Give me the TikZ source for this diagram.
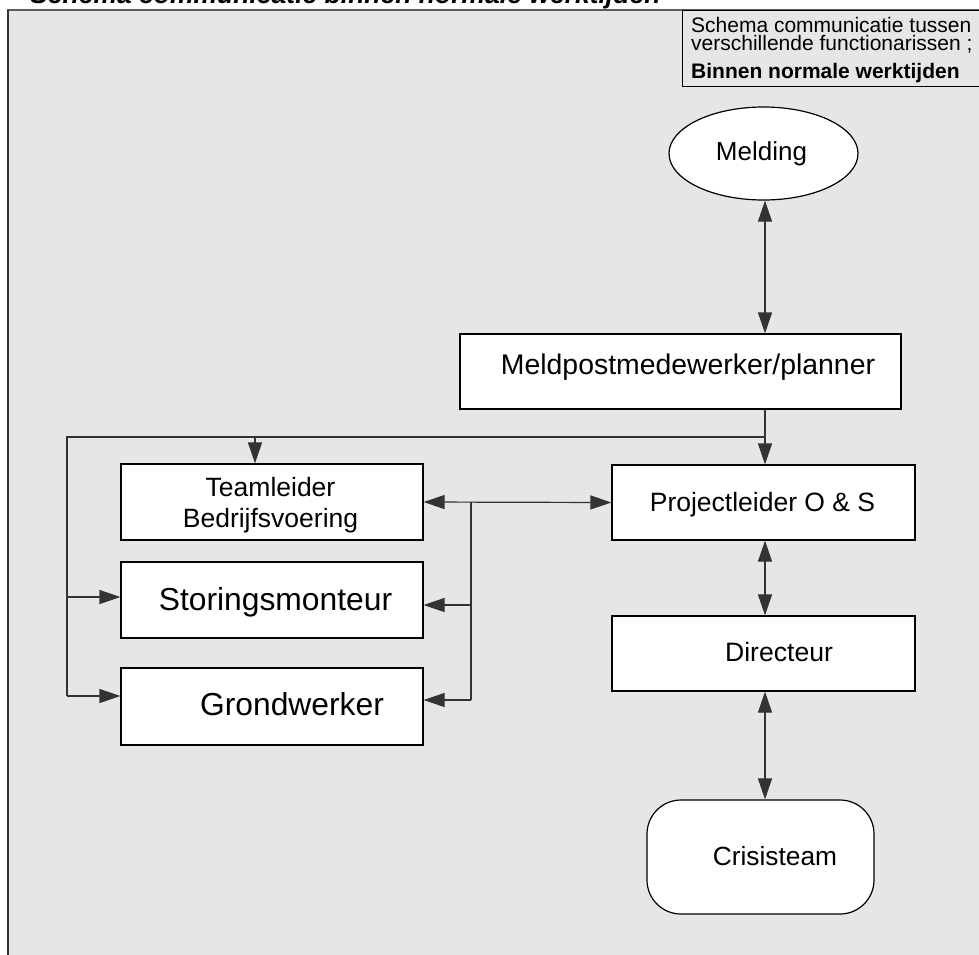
\documentclass[tikz,border=0pt]{standalone}
\usepackage{fontspec}
\setmainfont{Liberation Sans}
\usetikzlibrary{arrows.meta,shapes.geometric}
\definecolor{bg}{HTML}{E6E6E6}
\definecolor{ln}{HTML}{333333}
\tikzset{
  box/.style={draw=black,line width=1.2pt,fill=white,rectangle,inner sep=0pt},
  txt/.style={anchor=base,inner sep=0pt,text=black},
  conn/.style={draw=ln,line width=1.2pt},
  arr/.style={conn,-{Triangle[length=21pt,width=14pt]}},
  dbl/.style={conn,{Triangle[length=21pt,width=14pt]}-{Triangle[length=21pt,width=14pt]}},
  fs/.style={font=\fontsize{#1}{#1}\selectfont}
}
\begin{document}
\begin{tikzpicture}[x=1pt,y=-1pt]
\useasboundingbox (0,0) rectangle (979,954);
% frame
\fill[white] (0,0) rectangle (979,954);
\path[fill=bg] (8,10) rectangle (990,965);
\draw[draw=ln!80,line width=1.5pt] (8,965) -- (8,10) -- (990,10);
\draw[draw=ln,line width=2pt] (8,10) -- (8,965);
% title (cut off at top)
\node[txt,anchor=base west,font=\fontsize{26.5}{30}\selectfont\bfseries\itshape] (title) at (30,3) {Schema communicatie binnen normale werktijden};
% legend
\node[draw=black,line width=1.2pt,fill=bg,rectangle,inner sep=0pt,minimum width=310pt,minimum height=76pt,anchor=north west] (leg) at (682,10) {};
\node[txt,anchor=base west,fs=21] (leg1) at (691,32) {Schema communicatie tussen};
\node[txt,anchor=base west,fs=21] (leg2) at (691,50) {verschillende functionarissen ;};
\node[txt,anchor=base west,font=\fontsize{21}{21}\selectfont\bfseries] (leg3) at (691,78) {Binnen normale werktijden};
% boxes
\node[draw=black,line width=1.2pt,fill=white,ellipse,inner sep=0pt,minimum width=189pt,minimum height=93pt] (mel) at (763.5,153.5) {};
\node[box,minimum width=441pt,minimum height=75pt] (mp) at (680.5,371.5) {};
\node[box,minimum width=302pt,minimum height=76pt] (tl) at (272,502) {};
\node[box,minimum width=302pt,minimum height=76pt] (sm) at (272,600) {};
\node[box,minimum width=302pt,minimum height=77pt] (gw) at (272,706.5) {};
\node[box,minimum width=303pt,minimum height=75pt] (pl) at (763.5,502.5) {};
\node[box,minimum width=303pt,minimum height=75pt] (dir) at (763.5,653.5) {};
\node[box,rounded corners=34pt,minimum width=227pt,minimum height=114pt] (cr) at (760.5,857) {};
% texts
\node[txt,fs=26] (melt) at (761.5,160) {Melding};
\node[txt,fs=28.4] (mpt) at (688,374) {Meldpostmedewerker/planner};
\node[txt,fs=26.5] (tlt1) at (270.5,496.7) {Teamleider};
\node[txt,fs=26.5] (tlt2) at (270.5,527.7) {Bedrijfsvoering};
\node[txt,fs=31.8] (smt) at (275.5,610) {Storingsmonteur};
\node[txt,fs=31.8] (gwt) at (292,715) {Grondwerker};
\node[txt,fs=26.5] (plt) at (762.5,511.7) {Projectleider O \& S};
\node[txt,fs=26.6] (dirt) at (779,661.7) {Directeur};
\node[txt,fs=26.3] (crt) at (775,865.3) {Crisisteam};
% coordinates
\coordinate (cx) at (765,0);
\coordinate (j1) at (765,437);
\coordinate (jl) at (67,437);
\coordinate (jt) at (255,437);
\coordinate (ls) at (67,597);
\coordinate (lg) at (67,696);
\coordinate (rt) at (471,502);
\coordinate (rs) at (471,605);
\coordinate (rg) at (471,700);
% connectors
\draw[dbl] (cx |- mel.south) -- (cx |- mp.north);
\draw[conn] (cx |- mp.south) -- (j1);
\draw[arr] (j1) -- (cx |- pl.north);
\draw[conn] (j1) -- (jl) -- (lg);
\draw[arr] (jt) -- (jt |- tl.north);
\draw[arr] (ls) -- (ls -| sm.west);
\draw[arr] (lg) -- (lg -| gw.west);
\draw[dbl] (tl.east) -- (pl.west);
\draw[conn] (rt) -- (rg);
\draw[arr] (rs) -- (rs -| sm.east);
\draw[arr] (rg) -- (rg -| gw.east);
\draw[dbl] (cx |- pl.south) -- (cx |- dir.north);
\draw[dbl] (cx |- dir.south) -- (cx |- cr.north);
\end{tikzpicture}
\end{document}
